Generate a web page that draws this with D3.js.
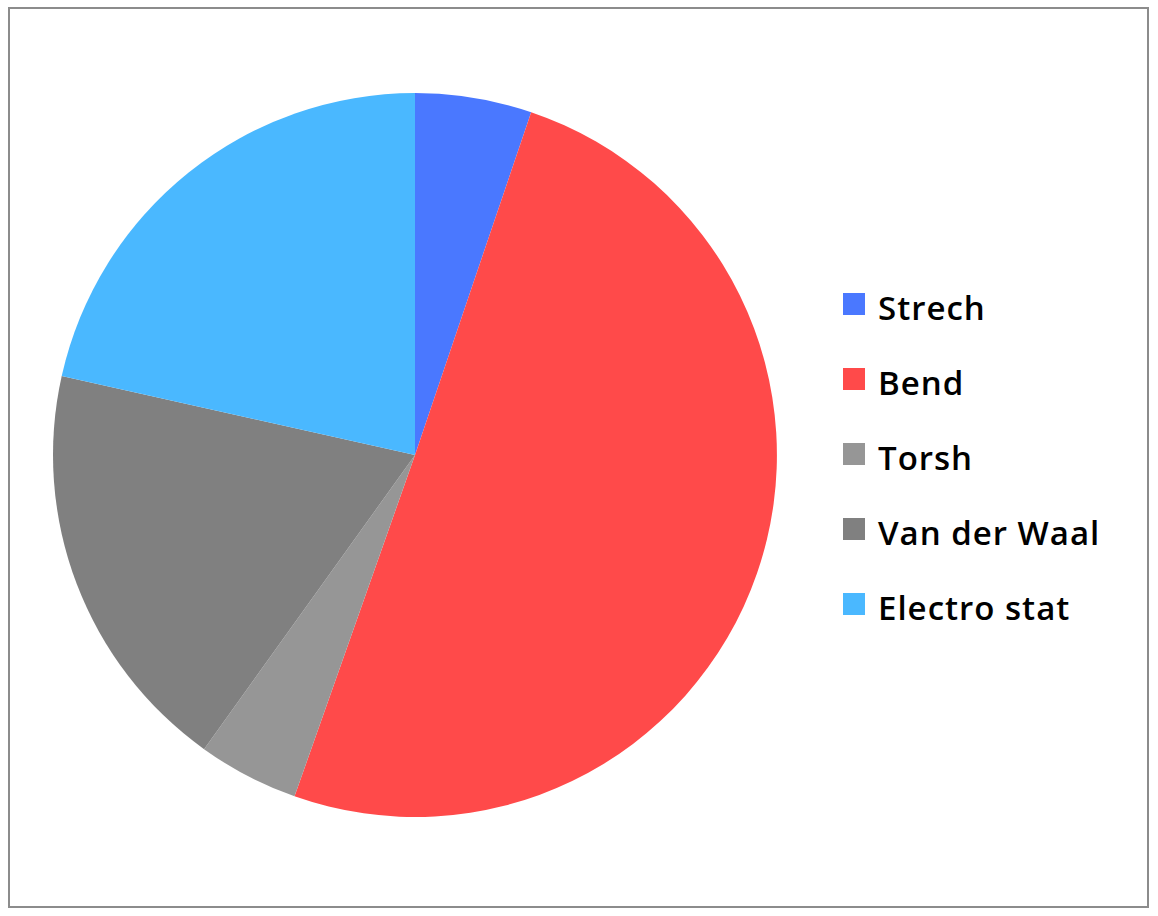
<!DOCTYPE html>
<html>
<head>
<meta charset="utf-8">
<script src="https://cdn.jsdelivr.net/npm/d3@7"></script>
<style>
  body { margin: 0; background: #fff; }
  svg { display: block; }
</style>
</head>
<body>
<div id="chart"></div>
<script>
// chart data
var labels = ["Strech", "Bend", "Torsh", "Van der Waal", "Electro stat"];
var values = [5.2, 50.2, 4.5, 18.6, 21.5];
var colors = ["#4a78ff", "#ff4a4a", "#969696", "#808080", "#4ab8ff"];

var width = 1158, height = 916;
var cx = 415, cy = 455, radius = 362;

var svg = d3.select("#chart").append("svg")
    .attr("width", width)
    .attr("height", height);

// outer frame
svg.append("rect")
    .attr("x", 9).attr("y", 8)
    .attr("width", 1139).attr("height", 899)
    .style("fill", "#fff")
    .style("stroke", "#8c8c8c")
    .style("stroke-width", 2);

var color = d3.scaleOrdinal().domain(labels).range(colors);

var pie = d3.pie().sort(null).value(function(d) { return d.value; });
var arc = d3.arc().innerRadius(0).outerRadius(radius);

var data = labels.map(function(l, i) { return { label: l, value: values[i] }; });

svg.append("g")
    .attr("transform", "translate(" + cx + "," + cy + ")")
  .selectAll("path")
    .data(pie(data))
    .enter()
    .append("path")
    .attr("d", arc)
    .style("fill", function(d) { return color(d.data.label); });

// legend
var legend = svg.append("g")
    .attr("transform", "translate(843,293)")
  .selectAll("g")
    .data(labels)
    .enter()
    .append("g")
    .attr("transform", function(d, i) { return "translate(0," + i * 75 + ")"; });

legend.append("rect")
    .attr("width", 22)
    .attr("height", 22)
    .style("fill", color);

legend.append("text")
    .attr("x", 35)
    .attr("y", 27)
    .style("font-family", "'Open Sans', sans-serif")
    .style("font-size", "33px")
    .style("font-weight", "600")
    .style("letter-spacing", "1px")
    .style("fill", "#000")
    .text(function(d) { return d; });
</script>
</body>
</html>
